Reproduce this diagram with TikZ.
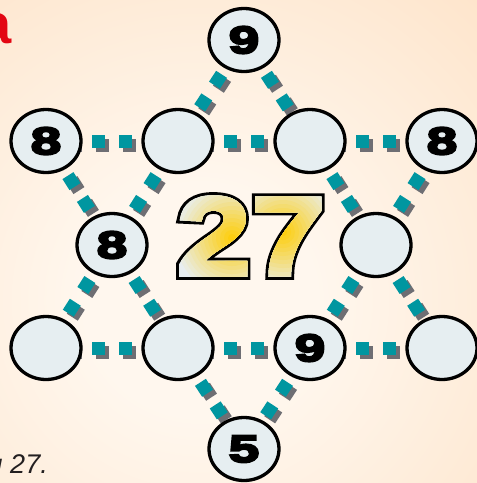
\documentclass[tikz,border=0pt]{standalone}
\usepackage{fontspec}
\usetikzlibrary{shapes.geometric}
\newfontfamily\numfont[FakeStretch=1.45,FakeBold=6]{Liberation Sans Bold}
\newfontfamily\bigfont[FakeStretch=1.2,FakeBold=3]{Liberation Sans Bold}
\newfontfamily\bigfontO[FakeStretch=1.2,FakeBold=8.5]{Liberation Sans Bold}
\newfontfamily\capfont{Liberation Sans}
\definecolor{bgin}{RGB}{255,247,238}
\definecolor{bgout}{RGB}{252,210,168}
\definecolor{teal1}{RGB}{0,150,160}
\definecolor{shad}{RGB}{110,110,115}
\definecolor{nodefill}{RGB}{230,238,241}
\definecolor{digitbase}{RGB}{232,238,240}
\definecolor{glow}{RGB}{255,204,0}
\definecolor{redtxt}{RGB}{227,6,19}
\definecolor{captxt}{RGB}{35,31,32}
\pgfdeclareradialshading{bgshade}{\pgfpoint{0bp}{0bp}}{color(0bp)=(bgin); color(8bp)=(bgin); color(50bp)=(bgout)}
\pgfdeclarelayer{bglayer}
\pgfdeclarelayer{linelayer}
\pgfsetlayers{bglayer,linelayer,main}
\begin{document}
\begin{tikzpicture}[x=1pt,y=-1pt,
  disc/.style={ellipse, draw=black, line width=3.3pt, fill=nodefill,
    minimum width=70pt, minimum height=63pt, inner sep=0pt,
    font=\numfont\fontsize{38}{38}\selectfont},
  dotsh/.style={line width=13pt, dash pattern=on 13pt off 14pt, dash phase=8pt},
  dotsd/.style={line width=13pt, dash pattern=on 13pt off 14pt, dash phase=13pt},
  bigout/.style={inner sep=0pt, text=black, font=\bigfontO\fontsize{112}{112}\selectfont},
  bigfill/.style={inner sep=0pt, font=\bigfont\fontsize{112}{112}\selectfont}]
\useasboundingbox (0,0) rectangle (477,483);
\begin{pgfonlayer}{bglayer}
  \begin{scope}
    \clip (0,0) rectangle (477,483);
    \shade[shading=bgshade] (-160,-60) rectangle (560,660);
  \end{scope}
\end{pgfonlayer}
% nodes
\node[disc] (t)  at (244,40)  {9};
\node[disc] (l8) at (46,141)  {8};
\node[disc] (c1) at (178,141) {};
\node[disc] (c2) at (310,141) {};
\node[disc] (r8) at (442,141) {8};
\node[disc] (m8) at (112,245) {8};
\node[disc] (mr) at (376,245) {};
\node[disc] (bl) at (46,348)  {};
\node[disc] (b1) at (178,348) {};
\node[disc] (b9) at (310,348) {9};
\node[disc] (br) at (442,348) {};
\node[disc] (b5) at (244,449) {5};
% connectors
\begin{pgfonlayer}{linelayer}
  \begin{scope}[transform canvas={shift={(4pt,-4pt)}}, shad]
    \foreach \a/\b in {l8/c1,c1/c2,c2/r8,bl/b1,b1/b9,b9/br}
      \draw[dotsh] (\a.center) -- (\b.center);
    \foreach \a/\b in {t/c1,c1/m8,m8/bl,t/c2,c2/mr,mr/br,l8/m8,m8/b1,b1/b5,r8/mr,mr/b9,b9/b5}
      \draw[dotsd] (\a.center) -- (\b.center);
  \end{scope}
  \begin{scope}[teal1]
    \foreach \a/\b in {l8/c1,c1/c2,c2/r8,bl/b1,b1/b9,b9/br}
      \draw[dotsh] (\a.center) -- (\b.center);
    \foreach \a/\b in {t/c1,c1/m8,m8/bl,t/c2,c2/mr,mr/br,l8/m8,m8/b1,b1/b5,r8/mr,mr/b9,b9/b5}
      \draw[dotsd] (\a.center) -- (\b.center);
  \end{scope}
\end{pgfonlayer}
% big 27
\node[bigout] (n27) at (251,236) {27};
\node[bigfill, text=digitbase] at (n27) {27};
\foreach \r in {56,52,...,4}{
  \pgfmathsetmacro\f{100*(1-\r/60)}
  \begin{scope}
    \clip (232,238) circle (\r pt);
    \node[bigfill, text=glow!\f!digitbase] at (n27) {2\phantom{7}};
  \end{scope}
  \begin{scope}
    \clip (283,232) circle (\r pt);
    \node[bigfill, text=glow!\f!digitbase] at (n27) {\phantom{2}7};
  \end{scope}
}
% texts
\node[font=\capfont\bfseries\fontsize{56}{56}\selectfont, text=redtxt, anchor=base east, inner sep=0pt] (ra) at (12,43) {a};
\node[font=\capfont\itshape\fontsize{27}{27}\selectfont, text=captxt, anchor=base east, inner sep=0pt] (cap) at (48,473) {u 27.};
\end{tikzpicture}
\end{document}
